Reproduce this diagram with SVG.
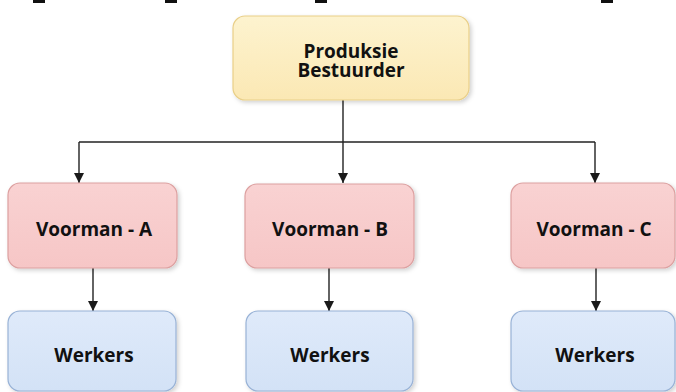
<svg xmlns="http://www.w3.org/2000/svg" width="676" height="392" viewBox="0 0 676 392">
<defs>
<linearGradient id="gy" x1="0" y1="0" x2="0" y2="1"><stop offset="0" stop-color="#fdf3cf"/><stop offset="1" stop-color="#fbe8b4"/></linearGradient>
<linearGradient id="gr" x1="0" y1="0" x2="0" y2="1"><stop offset="0" stop-color="#f9d2d2"/><stop offset="1" stop-color="#f6c6c6"/></linearGradient>
<linearGradient id="gb" x1="0" y1="0" x2="0" y2="1"><stop offset="0" stop-color="#dfeafa"/><stop offset="1" stop-color="#d3e2f6"/></linearGradient>
<filter id="sh" x="-10%" y="-10%" width="125%" height="130%"><feDropShadow dx="2" dy="2" stdDeviation="2" flood-color="#000" flood-opacity="0.18"/></filter>
<marker id="ah" viewBox="0 0 10 10" refX="10" refY="5" markerWidth="10" markerHeight="10" markerUnits="userSpaceOnUse" orient="auto"><path d="M0,0 L10,5 L0,10 z" fill="#1a1a1a"/></marker>
</defs>
<style>
text{font-family:"Open Sans","Liberation Sans",sans-serif;font-weight:bold;font-size:19px;fill:#111;text-anchor:middle}
.y{fill:url(#gy);stroke:#e9cf88;stroke-width:1.2;filter:url(#sh)}
.r{fill:url(#gr);stroke:#dca0a0;stroke-width:1.2;filter:url(#sh)}
.b{fill:url(#gb);stroke:#98b2d6;stroke-width:1.2;filter:url(#sh)}
.c{fill:none;stroke:#222;stroke-width:1.4}
.a{marker-end:url(#ah)}
</style>
<rect width="676" height="392" fill="#fff"/>
<g fill="#111">
<rect x="33" y="0" width="12" height="3"/>
<rect x="165" y="0" width="12" height="3"/>
<rect x="315" y="0" width="12" height="3"/>
<rect x="601" y="0" width="12" height="3"/>
</g>
<g id="connectors">
<path class="c" d="M343,100 V142"/>
<path class="c" d="M79,142 H595"/>
<path class="c a" d="M79,142 V183"/>
<path class="c a" d="M343,142 V183"/>
<path class="c a" d="M595,142 V183"/>
<path class="c a" d="M93,268 V311"/>
<path class="c a" d="M329,268 V311"/>
<path class="c a" d="M596,268 V311"/>
</g>
<g id="n0"><rect class="y" x="233" y="16" width="236" height="84" rx="12"/><text x="351" y="58">Produksie</text><text x="351" y="77">Bestuurder</text></g>
<g id="nA"><rect class="r" x="8" y="183" width="169" height="85" rx="12"/><text x="94" y="236">Voorman - A</text></g>
<g id="nB"><rect class="r" x="245" y="184" width="169" height="84" rx="12"/><text x="330" y="236">Voorman - B</text></g>
<g id="nC"><rect class="r" x="511" y="183" width="164" height="85" rx="12"/><text x="594" y="236">Voorman - C</text></g>
<g id="wA"><rect class="b" x="8" y="311" width="168" height="80" rx="12"/><text x="94" y="362">Werkers</text></g>
<g id="wB"><rect class="b" x="246" y="311" width="167" height="80" rx="12"/><text x="330" y="362">Werkers</text></g>
<g id="wC"><rect class="b" x="511" y="311" width="164" height="80" rx="12"/><text x="595" y="362">Werkers</text></g>
</svg>
